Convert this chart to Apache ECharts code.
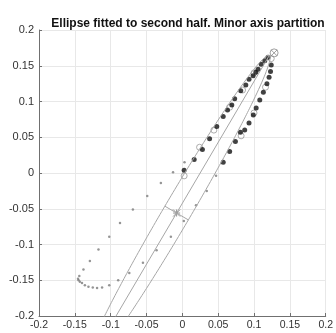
<!DOCTYPE html>
<html>
<head>
<meta charset="utf-8">
<script src="https://cdn.jsdelivr.net/npm/echarts@6/dist/echarts.min.js"></script>
<style>
  html, body { margin: 0; padding: 0; background: #fff; }
  #chart { width: 336px; height: 333px; }
</style>
</head>
<body>
<div id="chart"></div>
<script>
// trajectory samples (first part, small dots)
const smallDots = [
  [0.047, -0.004], [0.034, -0.025], [0.019, -0.045], [0.002, -0.067], [-0.016, -0.089],
  [-0.036, -0.108], [-0.055, -0.1255], [-0.074, -0.14], [-0.0895, -0.15], [-0.102, -0.157],
  [-0.112, -0.16], [-0.119, -0.161], [-0.125, -0.16], [-0.131, -0.159], [-0.136, -0.157],
  [-0.14, -0.154], [-0.143, -0.152], [-0.1447, -0.15], [-0.1456, -0.148], [-0.1438, -0.144],
  [-0.138, -0.135], [-0.129, -0.123], [-0.117, -0.107], [-0.102, -0.089], [-0.087, -0.07],
  [-0.069, -0.051], [-0.049, -0.032], [-0.03, -0.014], [-0.013, 0.001], [0.003, 0.015]
];
// second half, points used for the fit
const rightBranch = [
  [0.124, 0.151], [0.123, 0.142], [0.121, 0.134], [0.118, 0.125], [0.113, 0.113],
  [0.108, 0.102], [0.103, 0.091], [0.099, 0.081], [0.093, 0.07], [0.087, 0.06],
  [0.081, 0.057], [0.074, 0.044], [0.066, 0.03], [0.057, 0.015]
];
const leftBranch = [
  [0.0025, 0.004], [0.0165, 0.019], [0.028, 0.033], [0.038, 0.048], [0.048, 0.065],
  [0.057, 0.079], [0.063, 0.088], [0.069, 0.095], [0.073, 0.104], [0.0815, 0.115],
  [0.0885, 0.123], [0.093, 0.131], [0.0987, 0.136], [0.1025, 0.141], [0.1057, 0.145],
  [0.11, 0.152], [0.115, 0.157], [0.1195, 0.162]
];
const openCircles = [
  [0.0025, -0.004], [0.024, 0.036], [0.044, 0.06], [0.066, 0.092], [0.084, 0.116],
  [0.1, 0.14], [0.124, 0.16], [0.116, 0.12], [0.1, 0.084], [0.082, 0.052]
];
const startPoint = [0.128, 0.168];

// fitted ellipse parameters
const ellipseCenter = [-0.008, -0.056];
const semiMajor = 0.256;
const semiMinor = 0.019;
const ellipseAngleDeg = 59.6;

const th = ellipseAngleDeg * Math.PI / 180;
const ux = [Math.cos(th), Math.sin(th)];
const vx = [-Math.sin(th), Math.cos(th)];
const ellipsePts = [];
for (let i = 0; i <= 360; i++) {
  const t = i * Math.PI / 180;
  ellipsePts.push([
    ellipseCenter[0] + semiMajor * Math.cos(t) * ux[0] + semiMinor * Math.sin(t) * vx[0],
    ellipseCenter[1] + semiMajor * Math.cos(t) * ux[1] + semiMinor * Math.sin(t) * vx[1]
  ]);
}
const majorAxis = [
  [ellipseCenter[0] - semiMajor * ux[0], ellipseCenter[1] - semiMajor * ux[1]],
  [ellipseCenter[0] + semiMajor * ux[0], ellipseCenter[1] + semiMajor * ux[1]]
];
const minorAxis = [
  [ellipseCenter[0] - semiMinor * vx[0], ellipseCenter[1] - semiMinor * vx[1]],
  [ellipseCenter[0] + semiMinor * vx[0], ellipseCenter[1] + semiMinor * vx[1]]
];

const fontFamily = "Liberation Sans, Arial, sans-serif";
const lineGray = "#a6a6a6";
const fmt = (v) => String(+v.toFixed(2));

const axisCommon = {
  type: "value",
  min: -0.2,
  max: 0.2,
  interval: 0.05,
  axisLine: { show: true, onZero: false, lineStyle: { color: "#707070", width: 1 } },
  axisTick: { show: true, inside: true, length: 3, lineStyle: { color: "#707070" } },
  splitLine: { show: true, lineStyle: { color: "#e8e8e8", width: 1 } },
  axisLabel: { color: "#333", fontFamily: fontFamily, fontSize: 10.5, formatter: fmt }
};

const chart = echarts.init(document.getElementById("chart"));
chart.setOption({
  animation: false,
  title: {
    text: "Ellipse fitted to second half. Minor axis partition",
    left: 183,
    textAlign: "center",
    top: 13,
    textStyle: { fontFamily: fontFamily, fontSize: 12, fontWeight: "bold", color: "#111" }
  },
  grid: { left: 39, right: 10, top: 30, bottom: 17 },
  xAxis: Object.assign({}, axisCommon, { axisLabel: Object.assign({}, axisCommon.axisLabel, { margin: 4 }) }),
  yAxis: Object.assign({}, axisCommon, { axisLabel: Object.assign({}, axisCommon.axisLabel, { margin: 5, fontSize: 11 }) }),
  series: [
    {
      type: "line", data: ellipsePts, showSymbol: false, clip: true,
      lineStyle: { color: lineGray, width: 1 }
    },
    {
      type: "line", data: majorAxis, showSymbol: false, clip: true,
      lineStyle: { color: lineGray, width: 1 }
    },
    {
      type: "line", data: minorAxis, showSymbol: false, clip: true,
      lineStyle: { color: lineGray, width: 1 }
    },
    {
      type: "scatter", data: smallDots, symbolSize: 2.5,
      itemStyle: { color: "#7a7a7a" }
    },
    {
      type: "scatter", data: openCircles, symbolSize: 6,
      itemStyle: { color: "rgba(255,255,255,0)", borderColor: "#999", borderWidth: 1 }
    },
    {
      type: "scatter", data: rightBranch.concat(leftBranch), symbolSize: 5,
      itemStyle: { color: "#111" }
    },
    {
      type: "scatter", data: [ellipseCenter], symbolSize: 7,
      symbol: "path://M0,0L10,10M10,0L0,10M5,0L5,10M0,5L10,5",
      itemStyle: { color: "none", borderColor: "#777", borderWidth: 1 }
    },
    {
      type: "scatter", data: [startPoint], symbolSize: 8,
      itemStyle: { color: "rgba(255,255,255,0)", borderColor: "#888", borderWidth: 1 }
    },
    {
      type: "scatter", data: [startPoint], symbolSize: 6,
      symbol: "path://M0,0L10,10M10,0L0,10",
      itemStyle: { color: "none", borderColor: "#888", borderWidth: 1 }
    }
  ]
});
</script>
</body>
</html>
